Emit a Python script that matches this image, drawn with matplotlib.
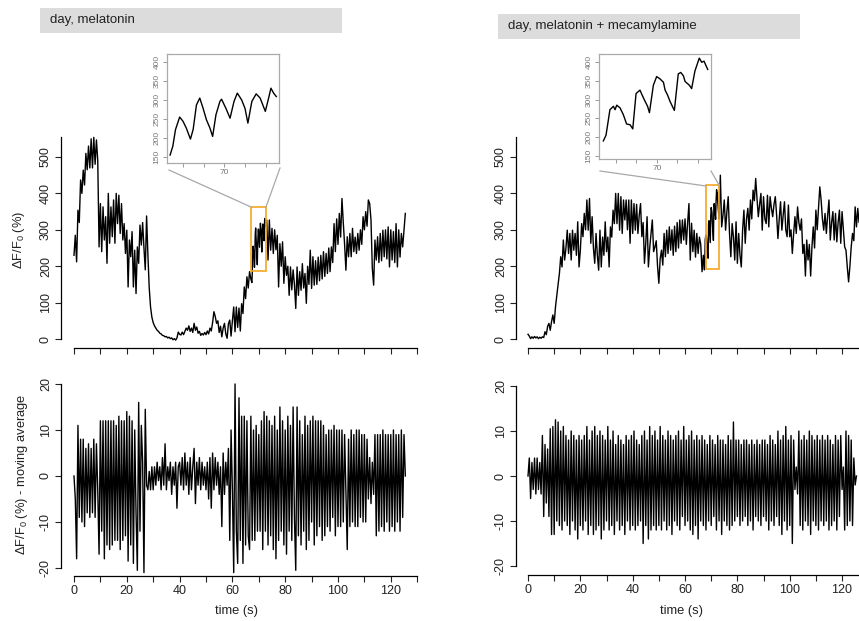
import numpy as np
import matplotlib
matplotlib.use("Agg")
import matplotlib.pyplot as plt
from matplotlib.patches import Rectangle
from matplotlib.lines import Line2D

plt.rcParams['font.family'] = ['Liberation Sans', 'DejaVu Sans']
plt.rcParams['mathtext.fontset'] = 'custom'
plt.rcParams['mathtext.rm'] = 'Liberation Sans'

# ---------------- data ----------------
dt = 0.5  # sampling step of the traces below (s)

# top left: day, melatonin  (dF/F0 %), t = 0 ... 67
tl_a = [230, 285, 212, 354, 320, 437, 400, 464, 423, 510, 465, 530, 470, 550, 470, 554, 480, 547, 490, 253,
        372, 240, 363, 272, 336, 208, 400, 263, 363, 281, 382, 263, 400, 317, 395, 290, 372, 272, 317, 235,
        299, 143, 272, 226, 295, 143, 244, 125, 253, 208, 313, 258, 320, 250, 190, 338, 230, 140, 88, 60,
        45, 36, 30, 24, 21, 16, 14, 10, 9, 6, 7, 3, 5, 1, 3, -2, 1, -3, 3, 19,
        13, 11, 19, 12, 21, 30, 24, 36, 21, 30, 18, 43, 24, 33, 16, 21, 10, 15, 11, 18,
        12, 22, 14, 30, 22, 45, 75, 62, 43, 50, 18, 35, 6, 30, 43, 14, 2, 42, 52, 8,
        50, 88, 20, 88, 32, 85, 22, 97, 70, 143, 111, 171, 140, 185, 165]
# zoomed window (inset)
tl_in_t = [67.38, 67.51, 67.64, 67.84, 68.0, 68.16, 68.36, 68.49, 68.65, 68.81,
           68.97, 69.13, 69.30, 69.43, 69.59, 69.78, 69.86, 70.07, 70.27, 70.46,
           70.62, 70.83, 70.99, 71.13, 71.32, 71.53, 71.72, 71.97, 72.13, 72.24,
           72.37, 72.5]
tl_in_v = [155, 178, 222, 255, 244, 226, 197, 222, 287, 305,
           278, 248, 226, 204, 261, 296, 302, 278, 252, 296,
           318, 300, 278, 239, 296, 316, 305, 270, 305, 331,
           318, 309]
# t = 73 ... 125.5
tl_b = [327, 217, 327, 244, 304, 235, 300, 245, 285, 143, 262, 200, 267, 153, 226, 175, 200, 120, 198, 135,
        190, 150, 84, 198, 120, 185, 134, 207, 140, 180, 98, 200, 150, 244, 139, 226, 148, 215, 150, 225,
        160, 230, 165, 240, 172, 235, 180, 250, 185, 253, 210, 317, 240, 330, 260, 345, 280, 386, 320, 260,
        189, 281, 226, 290, 226, 304, 240, 280, 235, 290, 244, 300, 260, 336, 300, 350, 310, 382, 372, 327,
        194, 148, 272, 217, 281, 210, 290, 215, 299, 226, 300, 220, 308, 198, 300, 217, 295, 210, 317, 198,
        300, 225, 290, 253, 300, 345]

# top right: day, melatonin + mecamylamine, t = 0 ... 67
tr_a = [13, 8, 1, 6, 2, 7, 3, 6, 1, 5, 2, 6, 4, 20, 12, 35, 43, 24, 48, 66,
        43, 88, 120, 150, 180, 226, 198, 272, 217, 250, 299, 235, 290, 217, 299, 244, 290, 230, 322, 198,
        244, 317, 281, 345, 300, 382, 299, 386, 263, 336, 250, 208, 290, 230, 189, 299, 198, 280, 230, 322,
        240, 280, 198, 308, 280, 354, 317, 400, 317, 400, 299, 391, 290, 382, 327, 382, 300, 382, 263, 382,
        290, 372, 299, 370, 290, 340, 372, 281, 320, 208, 263, 336, 198, 250, 290, 327, 240, 253, 270, 200,
        153, 220, 244, 203, 290, 226, 299, 235, 308, 244, 300, 230, 310, 240, 320, 250, 327, 263, 327, 272,
        330, 260, 320, 372, 217, 318, 240, 299, 225, 290, 235, 280, 260, 185, 230]
tr_in_t = [67.40, 67.53, 67.64, 67.72, 67.89, 67.97, 68.05, 68.21, 68.37, 68.53,
           68.70, 68.83, 68.99, 69.18, 69.30, 69.43, 69.55, 69.64, 69.83, 69.99,
           70.15, 70.32, 70.40, 70.52, 70.64, 70.85, 71.04, 71.16, 71.29, 71.37,
           71.58, 71.69, 71.85, 72.06, 72.18, 72.29, 72.47]
tr_in_v = [190, 205, 244, 273, 282, 273, 285, 278, 260, 235,
           233, 222, 316, 325, 310, 295, 282, 265, 338, 361,
           355, 346, 325, 312, 295, 271, 368, 372, 363, 348,
           338, 329, 376, 410, 399, 402, 380]
# t = 73 ... 127
tr_b = [330, 450, 308, 340, 382, 299, 350, 391, 290, 226, 317, 280, 217, 322, 208, 290, 230, 198, 299, 354,
        263, 330, 359, 299, 382, 330, 409, 380, 441, 386, 336, 370, 400, 299, 391, 330, 317, 395, 308, 391,
        360, 336, 370, 391, 340, 276, 330, 377, 299, 340, 377, 300, 281, 368, 281, 300, 235, 290, 336, 290,
        363, 320, 299, 330, 235, 260, 173, 272, 217, 260, 173, 253, 308, 250, 354, 300, 360, 418, 382, 330,
        299, 345, 290, 340, 382, 272, 320, 350, 272, 345, 267, 320, 354, 263, 350, 300, 253, 244, 198, 157,
        200, 253, 290, 270, 363, 308, 359, 320, 350]

# bottom left: dF/F0 - moving average, t = 0 ... 125.5
bl = [0, -5, -18, 11, -9, 8, -10, 8, -11, 6, -8, 7, -9, 6, -8, 8, -9, 7, -3, -17,
      12, -12, 12, -18, 12, -15, 12, -16, 12, -15, 12, -14, 11, -14, 13, -16, 12, -14, 12, -13,
      14, -18.5, 13, -15, 12, -19, 10, -8, -20.5, 16, -12, 11, 3, -21, 14.5, -2, -3, 1, -3, 2,
      -3, 2, -2, 3, -1, 2, -3, 4, -2, 7, -3, 2, -1, 3, -4, 2, -2, 3, -7, 2,
      3, -2, 4, -3, 5, -2, 3, -4, 4, -3, 2, 6, -6, 3, -2, 4, -3, 3, -2, 2,
      -3, 3, -5, 4, -7, 5, -3, 4, -2, 3, -4, 2, -11, 5, -4, 3, -2, 6, -14, 10,
      -3, -21, 20, -12, -19, 17, -14, 13, -19, 13, -15, 12, -13, -16, 13, -14, 10, -14, 11, -12,
      9, -12, 12, -16, 14, -12, 13, -15, 12, -13, 11, -16, 13, -18, 10, -14, 15, -12, 12, -15,
      10, -17, 13, -12, 11, -14, 15, -9, -20.5, 15, -13, 12, -15, 9, -12, 13, -16, 11, -14, 12,
      -10, 13, -15, 12, -13, 12, -11, 12, -14, 11, -13, 9, -11, 10, -12, 10, -9, 11, -13, 10,
      -11, 10, -11, 10, -10, 9, -3, -16, 8, -11, 10, -10, 9, -11, 10, -11, 10, -9, 9, -10,
      9, -10, 8, -5, 4, -6, 3, -4, 9, -13, 9, -12, 9, -11, 10, -12, 9, -10, 9, -12,
      9, -11, 10, -12, 9, -10, 9, -12, 10, -9, 9, 0]

# bottom right, t = 0 ... 125.5
br = [0, 4, -5, 3, -3, 4, -4, 4, -3, 3, -4, 9, -9, 7, -6, 6, -9, 10.5, -13, 11,
      -13, 12.5, -10, 12, -11, 10, -12, 11, -10, 9, -11, 8, -13, 10, -10, 9, -12, 8, -14, 9,
      -11, 8, -12, 9, -10, 11, -13, 8, -11, 10, -13, 11, -12, 9, -11, 10, -14, 9, -12, 8,
      -10, 11, -12, 8, -11, 10, -13, 7, -10, 9, -12, 8, -11, 7, -13, 9, -10, 8, -12, 9,
      -11, 10, -12, 8, -11, 7, -10, 9, -15, 10, -11, 8, -14, 11, -12, 9, -11, 10, -12, 8,
      -11, 11, -12, 9, -10, 8, -12, 10, -11, 9, -13, 8, -10, 9, -11, 10, -12, 8, -9, 11,
      -11, 8, -10, 9, -12, 10, -13, 8, -11, 9, -14, 8, -10, 9, -11, 8, -12, 7, -10, 9,
      -11, 8, -9, 7, -12, 9, -10, 8, -13, 8, -10, 7, -11, 9, -12, 8, -11, 12, -10, 8,
      -9, 8, -11, 7, -10, 8, -9, 8, -11, 7, -10, 8, -12, 7, -9, 8, -10, 7, -11, 8,
      -9, 8, -10, 7, -12, 9, -10, 8, -11, 7, -9, 10, -11, 8, -13, 9, -10, 11, -12, 8,
      -11, 9, -15, 8, -3, 2, -4, 10, -11, 8, -12, 9, -10, 8, -11, 10, -13, 9, -10, 8,
      -11, 9, -12, 8, -10, 9, -11, 8, -10, 9, -12, 8, -11, 7, -10, 9, -12, 8, -9, 9,
      -3, 2, -12, 10, -11, 9, -10, 8, -11, 4, -2, 0]

titles = ['day, melatonin', 'day, melatonin + mecamylamine']
ylab_top = 'ΔF/F$_\\mathrm{0}$ (%)'
ylab_bot = 'ΔF/F$_\\mathrm{0}$ (%) - moving average'

# ---------------- figure ----------------
W, H = 859, 621
fig = plt.figure(figsize=(W / 100, H / 100), dpi=100)


def ax_px(l, t, r, b):
    return fig.add_axes([l / W, 1 - b / H, (r - l) / W, (b - t) / H])


def fx(x):
    return x / W


def fy(y):
    return 1 - y / H


def trace(a, in_t, in_v, b):
    ta = np.arange(len(a)) * dt
    tb = 73 + np.arange(len(b)) * dt
    return np.concatenate([ta, in_t, tb]), np.concatenate([a, in_v, b])


def r_style(ax, ybounds, yticks, xlabels):
    for s in ['top', 'right']:
        ax.spines[s].set_visible(False)
    ax.spines['left'].set_bounds(*ybounds)
    ax.spines['bottom'].set_bounds(0, 130)
    for s in ['left', 'bottom']:
        ax.spines[s].set_linewidth(0.9)
    ax.set_xticks(np.arange(0, 131, 10))
    if xlabels:
        ax.set_xticklabels([str(v) if v % 20 == 0 else '' for v in range(0, 131, 10)])
    else:
        ax.set_xticklabels([])
    ax.set_yticks(yticks)
    ax.set_yticklabels([str(v) for v in yticks], rotation=90, va='center')
    ax.tick_params(length=4.5, width=0.8, labelsize=9, pad=2, colors='#222222')


t_tl, v_tl = trace(tl_a, tl_in_t, tl_in_v, tl_b)
t_tr, v_tr = trace(tr_a, tr_in_t, tr_in_v, tr_b)

# top left
ax = ax_px(61, 130, 421, 348)
ax.plot(t_tl, v_tl, color='black', lw=1.0)
ax.set_xlim(-4.92, 131.44)
ax.set_ylim(-24.7, 574.2)
r_style(ax, (0, 555), list(range(0, 501, 100)), False)
ax.add_patch(Rectangle((66.9, 187), 5.7, 175, fill=False, ec='#F5A623', lw=1.2, zorder=5))

# top right
ax = ax_px(516, 130, 880, 348)
ax.plot(t_tr, v_tr, color='black', lw=1.0)
ax.set_xlim(-4.585, 134.5)
ax.set_ylim(-24.7, 574.2)
r_style(ax, (0, 555), list(range(0, 501, 100)), False)
ax.add_patch(Rectangle((68.0, 192), 5.1, 231, fill=False, ec='#F5A623', lw=1.2, zorder=5))

# bottom left
ax = ax_px(61, 370, 421, 576)
ax.plot(np.arange(len(bl)) * dt, bl, color='black', lw=1.0)
ax.set_xlim(-4.92, 131.44)
ax.set_ylim(-21.74, 23.04)
r_style(ax, (-20, 20), list(range(-20, 21, 10)), True)
fig.text(fx(236), fy(611), 'time (s)', fontsize=9.3, ha='center', va='center', color='#222222')

# bottom right
ax = ax_px(516, 370, 880, 575)
ax.plot(np.arange(len(br)) * dt, br, color='black', lw=1.0)
ax.set_xlim(-4.585, 134.5)
ax.set_ylim(-22.0, 23.56)
r_style(ax, (-20, 20), list(range(-20, 21, 10)), True)
fig.text(fx(681), fy(611), 'time (s)', fontsize=9.3, ha='center', va='center', color='#222222')

# y labels
fig.text(fx(19), fy(240), ylab_top, rotation=90, ha='center', va='center', fontsize=9.3, color='#222222')
fig.text(fx(22), fy(474), ylab_bot, rotation=90, ha='center', va='center', fontsize=9.3, color='#222222')


# insets
def inset(box, xlim, ylim, tt, vv):
    ax = ax_px(*box)
    ax.plot(tt, vv, color='black', lw=1.0)
    ax.set_xlim(*xlim)
    ax.set_ylim(*ylim)
    for s in ax.spines.values():
        s.set_color('#aaaaaa')
        s.set_linewidth(0.9)
    ax.set_xticks([68, 69, 70, 71, 72])
    ax.set_xticklabels(['', '', '70', '', ''])
    ax.set_yticks(list(range(150, 401, 50)))
    ax.set_yticklabels([str(v) for v in range(150, 401, 50)], rotation=90, va='center')
    ax.tick_params(length=3, width=0.7, color='#999999', labelcolor='#777777', labelsize=6, pad=1.5)
    return ax


inset((167, 54, 279, 163), (67.23, 72.63), (134, 421), tl_in_t, tl_in_v)
inset((599, 54, 711, 159), (67.19, 72.63), (142, 421), tr_in_t, tr_in_v)

# connector lines
for (x0, y0, x1, y1) in [(169, 170, 251, 207), (280, 168, 266, 207),
                         (600, 171, 706, 186), (711, 171, 719, 185)]:
    fig.add_artist(Line2D([fx(x0), fx(x1)], [fy(y0), fy(y1)], color='#a8a8a8', lw=0.9))

# title boxes
for (x0, y0, x1, y1), s in zip([(40, 8, 342, 33), (498, 14, 800, 39)], titles):
    fig.add_artist(Rectangle((fx(x0), fy(y1)), fx(x1 - x0), (y1 - y0) / H,
                             facecolor='#dcdcdc', edgecolor='none'))
    fig.text(fx(x0 + 10), fy((y0 + y1) / 2), s, fontsize=9.5, ha='left', va='center', color='#222222')

fig.savefig('out.png', dpi=100)
